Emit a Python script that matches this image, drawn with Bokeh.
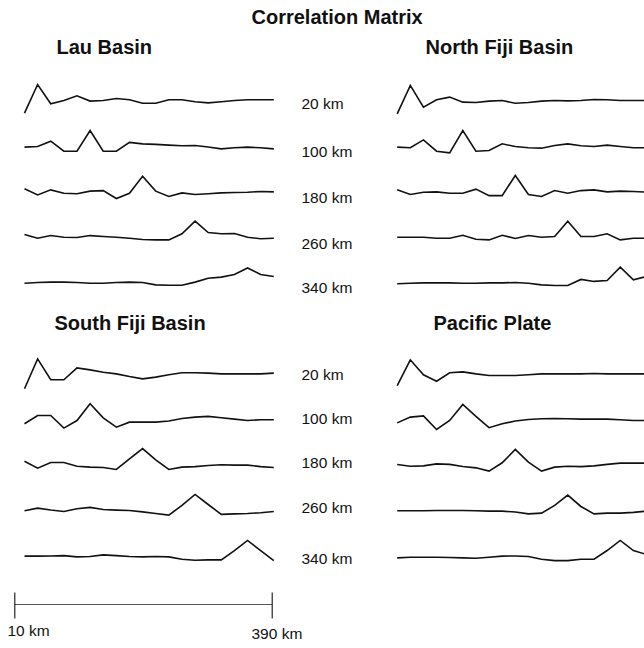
from bokeh.plotting import figure
from bokeh.models import Range1d
from bokeh.embed import file_html
from bokeh.resources import INLINE
from bokeh.core.properties import value

# ---------------- data ----------------
LAG_KM = [10, 30, 50, 70, 90, 110, 130, 150, 170, 190,
          210, 230, 250, 270, 290, 310, 330, 350, 370, 390]
ROW_LABELS = ["20 km", "100 km", "180 km", "260 km", "340 km"]
TITLE = "Correlation Matrix"
PANEL_NAMES = ["Lau Basin", "North Fiji Basin", "South Fiji Basin", "Pacific Plate"]
SCALE_KM = [10, 390]
SCALE_LABELS = ["10 km", "390 km"]

lau_20 = [-0.73, 0.86, -0.21, -0.03, 0.23, -0.06, -0.03, 0.08, 0.01, -0.18,
          -0.18, 0.01, 0.01, -0.10, -0.16, -0.10, -0.03, 0.01, 0.01, 0.01]
lau_100 = [0.04, 0.07, 0.37, -0.19, -0.19, 0.96, -0.19, -0.19, 0.30, 0.22,
           0.19, 0.15, 0.11, 0.13, 0.04, -0.06, 0.00, 0.04, 0.00, -0.06]
lau_180 = [0.19, -0.15, 0.13, -0.06, -0.09, 0.06, 0.09, -0.35, -0.06, 0.89,
           0.06, -0.24, -0.04, -0.13, -0.09, -0.04, -0.02, 0.00, 0.04, 0.02]
lau_260 = [0.15, -0.06, 0.09, 0.00, -0.02, 0.09, 0.04, 0.00, -0.06, -0.13,
           -0.15, -0.15, 0.19, 0.89, 0.26, 0.19, 0.20, 0.00, -0.09, -0.06]
lau_340 = [-0.04, 0.00, 0.02, 0.02, 0.00, -0.04, -0.04, 0.00, 0.02, 0.00,
           -0.13, -0.15, -0.15, 0.02, 0.24, 0.30, 0.44, 0.81, 0.44, 0.33]

nfiji_20 = [-0.77, 0.81, -0.40, 0.01, 0.16, -0.12, -0.14, -0.06, -0.03, -0.18,
            -0.14, -0.06, -0.03, -0.05, -0.03, 0.03, 0.01, -0.03, -0.03, -0.03]
nfiji_100 = [0.04, 0.00, 0.44, -0.19, -0.28, 0.96, -0.19, -0.15, 0.22, 0.07,
             0.00, -0.02, 0.13, 0.22, 0.11, 0.07, 0.15, 0.07, 0.00, 0.00]
nfiji_180 = [0.13, -0.13, 0.00, 0.02, -0.06, -0.06, 0.17, -0.19, -0.19, 0.93,
             -0.13, -0.24, 0.09, -0.06, 0.09, 0.13, 0.02, 0.06, 0.04, 0.00]
nfiji_260 = [0.00, 0.00, 0.00, -0.06, -0.06, 0.11, -0.11, -0.15, 0.11, -0.07,
             0.09, 0.00, 0.04, 0.89, 0.04, 0.04, 0.19, -0.15, -0.06, -0.06]
nfiji_340 = [-0.07, -0.04, -0.02, -0.02, -0.02, -0.04, -0.04, -0.02, -0.02, 0.00,
             -0.04, -0.13, -0.17, -0.17, 0.17, 0.06, 0.11, 0.85, 0.15, 0.33]

sfiji_20 = [-0.85, 0.81, -0.35, -0.35, 0.31, 0.20, 0.07, -0.02, -0.17, -0.30,
            -0.20, -0.07, 0.04, 0.04, 0.02, -0.02, -0.02, -0.02, -0.02, 0.02]
sfiji_100 = [-0.22, 0.24, 0.24, -0.46, -0.04, 0.89, 0.11, -0.41, -0.13, -0.13,
             -0.13, -0.07, 0.07, 0.15, 0.19, 0.11, 0.04, -0.04, 0.00, 0.00]
sfiji_180 = [0.24, -0.15, 0.17, 0.17, -0.04, -0.09, -0.11, -0.22, 0.37, 0.94,
             0.31, -0.22, -0.09, -0.06, 0.00, 0.04, 0.02, 0.02, -0.06, -0.11]
sfiji_260 = [0.00, 0.15, 0.04, -0.04, 0.11, 0.19, 0.07, 0.04, 0.02, -0.06,
             -0.15, -0.24, 0.30, 0.91, 0.35, -0.20, -0.17, -0.15, -0.11, -0.04]
sfiji_340 = [0.06, 0.06, 0.07, 0.09, 0.02, 0.04, 0.13, 0.09, 0.04, 0.02,
             0.04, 0.02, -0.11, -0.17, -0.15, -0.15, 0.37, 0.93, 0.37, -0.19]

pac_20 = [-0.67, 0.76, -0.07, -0.43, 0.04, 0.09, -0.02, -0.11, -0.11, -0.11,
          -0.07, -0.02, -0.02, -0.02, -0.02, 0.00, -0.02, -0.02, -0.02, -0.02]
pac_100 = [-0.17, 0.15, 0.22, -0.54, -0.04, 0.85, 0.19, -0.44, -0.22, -0.07,
           0.02, 0.06, 0.07, 0.06, 0.04, 0.04, 0.04, 0.00, -0.04, -0.04]
pac_180 = [0.06, -0.04, -0.02, 0.09, 0.06, -0.06, -0.13, -0.31, 0.15, 0.89,
           0.19, -0.31, -0.09, -0.04, -0.06, -0.02, 0.06, 0.13, 0.13, 0.13]
pac_260 = [0.00, 0.00, 0.00, 0.02, 0.02, 0.02, 0.00, -0.02, -0.02, -0.07,
           -0.17, -0.13, 0.30, 0.87, 0.24, -0.17, -0.13, -0.13, -0.09, -0.02]
pac_340 = [-0.04, 0.00, 0.00, 0.00, -0.02, -0.04, -0.06, 0.00, 0.06, 0.07,
           0.04, -0.11, -0.19, -0.19, -0.11, -0.11, 0.37, 0.93, 0.37, 0.15]

PANELS = [
    [lau_20, lau_100, lau_180, lau_260, lau_340],
    [nfiji_20, nfiji_100, nfiji_180, nfiji_260, nfiji_340],
    [sfiji_20, sfiji_100, sfiji_180, sfiji_260, sfiji_340],
    [pac_20, pac_100, pac_180, pac_260, pac_340],
]

# ---------------- layout (pixels) ----------------
W, H = 644, 648
PX_PER_UNIT = 18.0                      # one correlation unit in pixels
TRACE_PX = {"left": (24.0, 273.3), "right": (396.7, 646.0)}
SCALE_PX = (14.3, 271.7)
ROW_PX_TOP = [99.5, 147.3, 191.7, 236.7, 282.0]
ROW_PX_BOT = [373.0, 419.3, 465.0, 510.3, 556.7]
LABEL_MID_TOP = [102.5, 150.5, 196.5, 242.5, 287.0]
LABEL_MID_BOT = [374.0, 418.0, 462.0, 507.0, 558.0]

FONT = "Liberation Sans"

p = figure(width=W, height=H, x_range=Range1d(0, W), y_range=Range1d(H, 0),
           x_axis_type=None, y_axis_type=None, toolbar_location=None,
           output_backend="svg", min_border=0, outline_line_color=None,
           background_fill_color="white", border_fill_color="white")
p.grid.visible = False


def km_range(px0, px1):
    k0, k1 = SCALE_KM
    s = (px1 - px0) / (k1 - k0)
    start = k0 - px0 / s
    return Range1d(start, start + W / s)


p.extra_x_ranges = {
    "left": km_range(*TRACE_PX["left"]),
    "right": km_range(*TRACE_PX["right"]),
    "scale": km_range(*SCALE_PX),
}
p.extra_y_ranges = {"corr": Range1d(-H / PX_PER_UNIT, 0)}

panel_cols = ["left", "right", "left", "right"]
panel_rows = [ROW_PX_TOP, ROW_PX_TOP, ROW_PX_BOT, ROW_PX_BOT]

for traces, col, rows in zip(PANELS, panel_cols, panel_rows):
    for vals, row_px in zip(traces, rows):
        ys = [v - row_px / PX_PER_UNIT for v in vals]
        p.line(x=LAG_KM, y=ys, x_range_name=col, y_range_name="corr",
               line_color="#111111", line_width=1.6, line_join="miter")

# scale bar
p.line(x=SCALE_KM, y=[604, 604], x_range_name="scale",
       line_color="#555555", line_width=1.1)
for k in SCALE_KM:
    p.segment(x0=[k], x1=[k], y0=[592], y1=[618], x_range_name="scale",
              line_color="#111111", line_width=1.1)

bold = dict(text_font=value(FONT), text_font_style="bold",
            text_font_size="20px", text_color="#111111",
            text_baseline="middle", text_align="left")
reg = dict(text_font=value(FONT), text_font_style="normal",
           text_font_size="15.5px", text_color="#111111",
           text_baseline="middle", text_align="left")

p.text(x=[251], y=[16.3], text=[TITLE], **bold)
p.text(x=[56, 425, 54, 433], y=[46.3, 46.3, 322, 322], text=PANEL_NAMES, **bold)
p.text(x=[301] * 5, y=LABEL_MID_TOP, text=ROW_LABELS, **reg)
p.text(x=[301] * 5, y=LABEL_MID_BOT, text=ROW_LABELS, **reg)
p.text(x=[7, 251], y=[630, 632.5], text=SCALE_LABELS, **reg)

open("out.html", "w").write(file_html(p, INLINE))
